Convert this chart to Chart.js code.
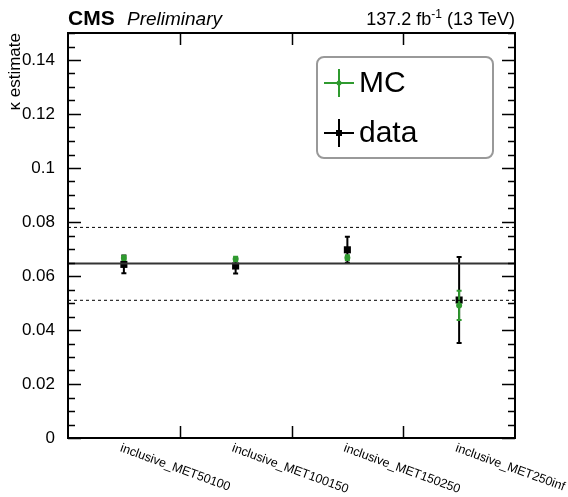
<!DOCTYPE html>
<html>
<head>
<meta charset="utf-8">
<script src="https://cdn.jsdelivr.net/npm/chart.js@4.4.1/dist/chart.umd.min.js"></script>
<style>
  body { margin: 0; background: #fff; }
  canvas { display: block; }
</style>
</head>
<body>
<canvas id="myChart" width="568" height="497"></canvas>
<script>
var categories = ["inclusive_MET50100", "inclusive_MET100150", "inclusive_MET150250", "inclusive_MET250inf"];
var mcValues = [0.0667, 0.0663, 0.0668, 0.0491];
var mcErrors = [0.0008, 0.0008, 0.0009, 0.0054];
var dataValues = [0.0643, 0.0637, 0.0697, 0.0511];
var dataErrors = [0.0033, 0.0028, 0.0048, 0.0159];
var meanKappa = 0.0646;
var bandLow = 0.0510;
var bandHigh = 0.0780;
var yTicks = [0, 0.02, 0.04, 0.06, 0.08, 0.1, 0.12, 0.14];

var FONT = "'Liberation Sans', Arial, Helvetica, sans-serif";
var GREEN = "#2f9a2f";
Chart.defaults.font.family = FONT;
Chart.defaults.color = "#000";

function points(vals) {
    return vals.map(function (v, i) { return { x: i + 0.5, y: v }; });
}
function hline(v) {
    return [{ x: 0, y: v }, { x: categories.length, y: v }];
}

// error bars, frame with inward ticks, rotated labels, header and legend
var rootStyle = {
    id: 'rootStyle',
    beforeDatasetDraw: function (chart, args) {
        var ds = chart.data.datasets[args.index];
        if (!ds.errors) return;
        var ctx = chart.ctx, y = chart.scales.y;
        var meta = chart.getDatasetMeta(args.index);
        ctx.save();
        ctx.strokeStyle = ds.backgroundColor;
        ctx.lineWidth = 2;
        meta.data.forEach(function (pt, i) {
            var v = ds.data[i].y, e = ds.errors[i];
            var y1 = y.getPixelForValue(v + e), y2 = y.getPixelForValue(v - e);
            ctx.beginPath();
            ctx.moveTo(pt.x, y1); ctx.lineTo(pt.x, y2);
            ctx.moveTo(pt.x - 2.5, y1); ctx.lineTo(pt.x + 2.5, y1);
            ctx.moveTo(pt.x - 2.5, y2); ctx.lineTo(pt.x + 2.5, y2);
            ctx.stroke();
        });
        ctx.restore();
    },
    afterDraw: function (chart) {
        var ctx = chart.ctx, a = chart.chartArea;
        var xs = chart.scales.x, ys = chart.scales.y;
        ctx.save();
        ctx.strokeStyle = "#000";
        ctx.lineWidth = 2;
        ctx.strokeRect(a.left, a.top, a.right - a.left, a.bottom - a.top);

        ctx.lineWidth = 1.5;
        ctx.beginPath();
        for (var k = 0; k <= 30; k++) {
            var v = k * 0.005;
            var py = Math.round(ys.getPixelForValue(v)) + 0.5;
            var len = (k % 4 === 0) ? 13 : 7;
            ctx.moveTo(a.left, py); ctx.lineTo(a.left + len, py);
            ctx.moveTo(a.right, py); ctx.lineTo(a.right - len, py);
        }
        for (var i = 1; i < categories.length; i++) {
            var px = Math.round(xs.getPixelForValue(i)) + 0.5;
            ctx.moveTo(px, a.bottom); ctx.lineTo(px, a.bottom - 12);
            ctx.moveTo(px, a.top); ctx.lineTo(px, a.top + 12);
        }
        ctx.stroke();

        // category labels, rotated clockwise
        ctx.fillStyle = "#000";
        ctx.font = "12.5px " + FONT;
        ctx.textAlign = "left";
        ctx.textBaseline = "top";
        categories.forEach(function (c, i) {
            ctx.save();
            ctx.translate(xs.getPixelForValue(i + 0.5) - 1, a.bottom + 4);
            ctx.rotate(20 * Math.PI / 180);
            ctx.fillText(c, 0, 0);
            ctx.restore();
        });

        // header
        ctx.textBaseline = "alphabetic";
        ctx.font = "bold 21px " + FONT;
        ctx.fillText("CMS", a.left, 25);
        ctx.font = "italic 19px " + FONT;
        ctx.fillText("Preliminary", a.left + 59, 25);
        ctx.font = "18px " + FONT;
        var p1 = "137.2 fb", p3 = " (13 TeV)";
        var w1 = ctx.measureText(p1).width, w3 = ctx.measureText(p3).width;
        ctx.font = "12px " + FONT;
        var w2 = ctx.measureText("-1").width;
        var x0 = a.right - (w1 + w2 + w3);
        ctx.font = "18px " + FONT;
        ctx.fillText(p1, x0, 25);
        ctx.fillText(p3, x0 + w1 + w2, 25);
        ctx.font = "12px " + FONT;
        ctx.fillText("-1", x0 + w1, 18);

        // legend box
        ctx.beginPath();
        ctx.roundRect(317, 57, 176, 101, 7);
        ctx.fillStyle = "#fff";
        ctx.fill();
        ctx.strokeStyle = "#999";
        ctx.lineWidth = 2;
        ctx.stroke();
        var entries = [
            { label: "MC", color: GREEN, y: 83, marker: "circle" },
            { label: "data", color: "#000", y: 133, marker: "rect" }
        ];
        entries.forEach(function (e) {
            ctx.strokeStyle = e.color;
            ctx.fillStyle = e.color;
            ctx.lineWidth = 2;
            ctx.beginPath();
            ctx.moveTo(324, e.y); ctx.lineTo(354, e.y);
            ctx.moveTo(339, e.y - 14); ctx.lineTo(339, e.y + 14);
            ctx.stroke();
            ctx.beginPath();
            if (e.marker === "circle") ctx.arc(339, e.y, 2.5, 0, 2 * Math.PI);
            else ctx.rect(336, e.y - 3, 6, 6);
            ctx.fill();
            ctx.fillStyle = "#000";
            ctx.font = "30px " + FONT;
            ctx.textBaseline = "middle";
            ctx.fillText(e.label, 359, e.y + 1);
        });
        ctx.restore();
    }
};

var ctx = document.getElementById("myChart").getContext('2d');

var myChart = new Chart(ctx, {
    type: 'scatter',
    data: {
        datasets: [
            { type: 'line', data: hline(meanKappa), borderColor: '#333', borderWidth: 2, pointRadius: 0 },
            { type: 'line', data: hline(bandHigh), borderColor: '#000', borderWidth: 1, borderDash: [3, 3], pointRadius: 0 },
            { type: 'line', data: hline(bandLow), borderColor: '#000', borderWidth: 1, borderDash: [3, 3], pointRadius: 0 },
            { label: 'MC', data: points(mcValues), errors: mcErrors, backgroundColor: GREEN, borderWidth: 0, pointStyle: 'circle', pointRadius: 3 },
            { label: 'data', data: points(dataValues), errors: dataErrors, backgroundColor: '#000', borderWidth: 0, pointStyle: 'rect', pointRadius: 5 }
        ]
    },
    options: {
        responsive: false,
        animation: false,
        layout: { padding: { left: 0, right: 53, top: 33, bottom: 59 } },
        plugins: { legend: { display: false }, tooltip: { enabled: false } },
        scales: {
            x: { type: 'linear', min: 0, max: categories.length, display: false },
            y: {
                min: 0,
                max: 0.15,
                afterFit: function (s) { s.width = 68; },
                afterBuildTicks: function (s) { s.ticks = yTicks.map(function (v) { return { value: v }; }); },
                grid: { display: false },
                border: { display: false },
                ticks: {
                    font: { size: 17 },
                    color: '#000',
                    padding: 5,
                    autoSkip: false,
                    callback: function (v) { return String(+v.toFixed(2)); }
                },
                title: {
                    display: true,
                    text: 'κ estimate',
                    align: 'end',
                    font: { size: 17 },
                    color: '#000',
                    padding: { top: 5, bottom: 0 }
                }
            }
        }
    },
    plugins: [rootStyle]
});
</script>
</body>
</html>
